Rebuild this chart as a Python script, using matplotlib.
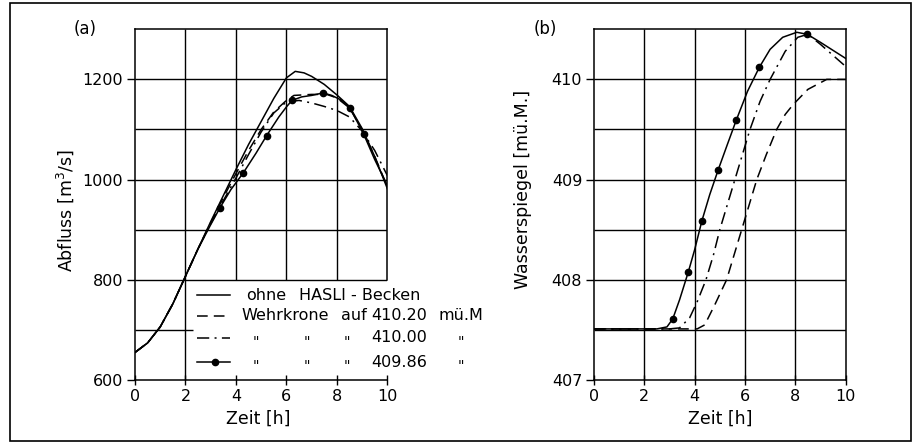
import matplotlib
matplotlib.use("Agg")
import matplotlib.pyplot as plt
from matplotlib.lines import Line2D
from matplotlib.patches import Rectangle

plt.rcParams['font.family'] = ['DejaVu Sans']

# (a) Abfluss [m3/s] over Zeit [h]
t_ohne = [0, 0.5, 1, 1.5, 2, 2.5, 3, 3.5, 4, 4.5, 5, 5.5, 6, 6.35, 6.7, 7, 7.5, 8, 8.5, 9, 9.5, 10]
q_ohne = [655, 674, 706, 752, 807, 862, 916, 968, 1020, 1070, 1116, 1162, 1203, 1216, 1213, 1206, 1190, 1169, 1146, 1102, 1046, 982]

t_4102 = [0, 0.5, 1, 1.5, 2, 2.5, 3, 3.5, 4, 4.5, 5, 5.5, 6, 6.3, 7, 7.6, 8, 8.5, 9, 9.5, 10]
q_4102 = [655, 674, 706, 752, 807, 862, 914, 964, 1012, 1058, 1100, 1135, 1158, 1168, 1170, 1170, 1163, 1143, 1100, 1046, 986]

t_4100 = [0, 0.5, 1, 1.5, 2, 2.5, 3, 3.5, 4, 4.5, 5, 5.5, 6, 6.5, 7, 7.5, 8, 8.5, 9, 9.5, 10]
q_4100 = [655, 674, 706, 752, 807, 862, 912, 958, 1003, 1050, 1095, 1133, 1155, 1158, 1153, 1146, 1138, 1125, 1097, 1058, 1008]

t_4098 = [0, 0.5, 1, 1.5, 2, 2.5, 3, 3.37, 3.8, 4.3, 4.8, 5.22, 5.7, 6.0, 6.22, 6.6, 7.0, 7.45, 7.8, 8.2, 8.53, 9.06, 9.5, 10]
q_4098 = [655, 674, 706, 752, 807, 862, 910, 944, 980, 1014, 1053, 1088, 1125, 1145, 1158, 1165, 1168, 1173, 1168, 1158, 1142, 1091, 1040, 988]
dots_a = [7, 9, 11, 14, 17, 20, 21]

# (b) Wasserspiegel [m ü.M.] over Zeit [h]
tb_4098 = [0, 1, 2, 2.5, 2.9, 3.13, 3.4, 3.75, 4.0, 4.29, 4.6, 4.94, 5.3, 5.65, 6.1, 6.57, 7.0, 7.5, 8.06, 8.48, 9.0, 9.5, 10]
h_4098 = [407.51, 407.51, 407.51, 407.51, 407.53, 407.61, 407.8, 408.08, 408.3, 408.59, 408.85, 409.10, 409.35, 409.59, 409.88, 410.12, 410.3, 410.42, 410.47, 410.45, 410.37, 410.29, 410.21]
dots_b = [5, 7, 9, 11, 13, 15, 19]

tb_4100 = [0, 1, 2, 3, 3.4, 3.8, 4.1, 4.45, 4.75, 5.0, 5.3, 5.6, 5.9, 6.2, 6.6, 7.0, 7.6, 8.1, 8.5, 9.0, 9.5, 10]
h_4100 = [407.51, 407.51, 407.51, 407.51, 407.52, 407.62, 407.78, 408.0, 408.25, 408.5, 408.75, 409.0, 409.25, 409.5, 409.78, 410.0, 410.28, 410.42, 410.45, 410.35, 410.24, 410.13]

tb_4102 = [0, 1, 2, 3, 4.1, 4.4, 4.8, 5.27, 5.57, 5.87, 6.17, 6.47, 6.85, 7.26, 7.6, 7.92, 8.5, 9.25, 10]
h_4102 = [407.51, 407.51, 407.51, 407.51, 407.51, 407.55, 407.75, 408.0, 408.25, 408.5, 408.75, 409.0, 409.25, 409.5, 409.65, 409.75, 409.9, 410.0, 410.0]

x_ticks = [0, 2, 4, 6, 8, 10]
ya_ticks = [600, 800, 1000, 1200]
yb_ticks = [407, 408, 409, 410]

DASH = (0, (7, 4))
DASHDOT = (0, (8, 3.5, 1.3, 3.5))
LW = 1.1

fig = plt.figure(figsize=(9.17, 4.43), dpi=100)
fig.patch.set_facecolor('white')


def style_axes(ax, yticks):
    ax.set_xlim(0, 10)
    ax.set_xticks(x_ticks)
    ax.set_yticks(yticks)
    ax.tick_params(axis='x', direction='inout', length=7, width=1, labelsize=11.5, pad=3)
    ax.tick_params(axis='y', direction='out', length=5.5, width=1, labelsize=11.5, pad=3)
    for s in ax.spines.values():
        s.set_linewidth(1.1)


# ---- panel (a)
ax = fig.add_axes([0.1472, 0.1422, 0.2752, 0.7917])
ax.set_ylim(600, 1300)
style_axes(ax, ya_ticks)
ax.spines['right'].set_bounds(800, 1300)
ax.vlines([2], 600, 1300, color='k', lw=1, zorder=1)
ax.vlines([4, 6, 8], 800, 1300, color='k', lw=1, zorder=1)
ax.hlines([800, 900, 1000, 1100, 1200], 0, 10, color='k', lw=1, zorder=1)
ax.hlines([700], 0, 2.3, color='k', lw=1, zorder=1)

ax.plot(t_ohne, q_ohne, color='k', lw=LW, zorder=3)
ax.plot(t_4102, q_4102, color='k', lw=LW, ls=DASH, zorder=3)
ax.plot(t_4100, q_4100, color='k', lw=LW, ls=DASHDOT, zorder=3)
ax.plot(t_4098, q_4098, color='k', lw=LW, marker='o', ms=4.5, markevery=dots_a, zorder=3)

ax.set_xlabel('Zeit [h]', fontsize=12.5)
ax.xaxis.set_label_coords(0.488, -0.085)
ax.set_ylabel('Abfluss [m$^3$/s]', fontsize=12.5)
ax.yaxis.set_label_coords(-0.234, 0.482)

# legend drawn as in the original figure
rows_y = [0.242, 0.183, 0.120, 0.051]
styles = [dict(ls='-'), dict(ls=DASH), dict(ls=DASHDOT), dict(ls='-')]
for y, st in zip(rows_y, styles):
    ax.add_line(Line2D([0.246, 0.377], [y, y], color='k', lw=LW, transform=ax.transAxes,
                       clip_on=False, **st))
ax.add_line(Line2D([0.317], [rows_y[3]], color='k', marker='o', ms=4.5, transform=ax.transAxes,
                   clip_on=False))

kw = dict(transform=ax.transAxes, fontsize=11.5, va='center', ha='left', clip_on=False)
ax.text(0.440, rows_y[0], 'ohne', **kw)
ax.text(0.650, rows_y[0], 'HASLI - Becken', **kw)
ax.text(0.420, rows_y[1], 'Wehrkrone', **kw)
ax.text(0.815, rows_y[1], 'auf', **kw)
ax.text(0.938, rows_y[1], '410.20', **kw)
ax.text(1.201, rows_y[1], 'mü.M', **kw)
ax.text(0.938, rows_y[2], '410.00', **kw)
ax.text(0.938, rows_y[3], '409.86', **kw)
for y in rows_y[2:]:
    for xd in [0.481, 0.680, 0.840, 1.290]:
        ax.text(xd, y - 0.022, '"', transform=ax.transAxes, fontsize=10, ha='center',
                va='baseline', clip_on=False)

# ---- panel (b)
bx = fig.add_axes([0.6478, 0.1422, 0.2743, 0.7917])
bx.set_ylim(407, 410.5)
style_axes(bx, yb_ticks)
bx.vlines([2, 4, 6, 8], 407, 410.5, color='k', lw=1, zorder=1)
bx.hlines([407.5, 408, 408.5, 409, 409.5, 410], 0, 10, color='k', lw=1, zorder=1)

bx.plot(tb_4102, h_4102, color='k', lw=LW, ls=DASH, zorder=3)
bx.plot(tb_4100, h_4100, color='k', lw=LW, ls=DASHDOT, zorder=3)
bx.plot(tb_4098, h_4098, color='k', lw=LW, marker='o', ms=4.5, markevery=dots_b, zorder=3)

bx.set_xlabel('Zeit [h]', fontsize=12.5)
bx.xaxis.set_label_coords(0.501, -0.085)
bx.set_ylabel('Wasserspiegel [mü.M.]', fontsize=12.5)
bx.yaxis.set_label_coords(-0.2465, 0.542)

fig.text(85 / 917, 1 - 29 / 443, '(a)', fontsize=12, ha='center', va='center')
fig.text(545 / 917, 1 - 29 / 443, '(b)', fontsize=12, ha='center', va='center')

fig.patches.append(Rectangle((10 / 917, 2.5 / 443), 900.5 / 917, 437.5 / 443, fill=False,
                             lw=1.2, edgecolor='k', transform=fig.transFigure))

fig.savefig('out.png', dpi=100, facecolor='white')
